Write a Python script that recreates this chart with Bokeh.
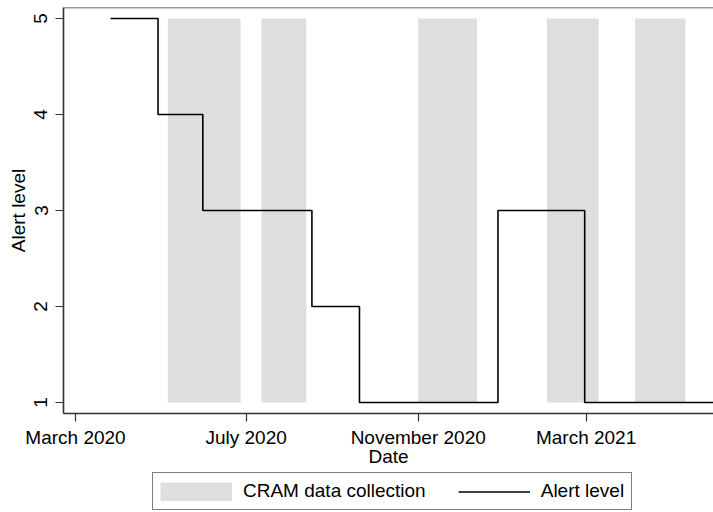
from datetime import datetime

import pandas as pd
from bokeh.plotting import figure
from bokeh.layouts import column
from bokeh.models import (ColumnDataSource, DatetimeTickFormatter, FixedTicker,
                          Legend, LegendItem, Range1d, Span)
from bokeh.embed import file_html
from bokeh.resources import INLINE

# Alert level in force from each date until the next change
level_dates = ["2020-03-26", "2020-04-29", "2020-05-31", "2020-08-17",
               "2020-09-20", "2020-12-28", "2021-02-28", "2021-05-31"]
alert_levels = [5, 4, 3, 2, 1, 3, 1, 1]

# CRAM data collection windows
cram_start = ["2020-05-06", "2020-07-12", "2020-11-01", "2021-02-01", "2021-04-05"]
cram_end = ["2020-06-27", "2020-08-13", "2020-12-13", "2021-03-10", "2021-05-11"]

# Axis ticks
tick_dates = ["2020-03-01", "2020-07-01", "2020-11-01", "2021-03-01"]
level_ticks = [1, 2, 3, 4, 5]

FONT = "Liberation Sans"
AXIS_COLOR = "#333333"
CRAM_FILL = "#dedede"

def to_ms(d):
    return (pd.Timestamp(d) - pd.Timestamp("1970-01-01")) / pd.Timedelta(milliseconds=1)

cram_src = ColumnDataSource(dict(left=pd.to_datetime(cram_start),
                                 right=pd.to_datetime(cram_end),
                                 bottom=[1] * len(cram_start),
                                 top=[5] * len(cram_start)))
level_src = ColumnDataSource(dict(date=pd.to_datetime(level_dates), level=alert_levels))

p = figure(width=713, height=470, x_axis_type="datetime",
           output_backend="svg", toolbar_location=None,
           min_border_left=63, min_border_top=7, min_border_right=0,
           min_border_bottom=57)

p.x_range = Range1d(datetime(2020, 2, 21, 10), datetime(2021, 5, 31, 2))
p.y_range = Range1d(0.885, 5.115)

p.outline_line_color = None
p.xgrid.visible = False
p.ygrid.visible = False
p.background_fill_color = "white"
p.border_fill_color = "white"

# shaded collection periods
p.quad(left="left", right="right", bottom="bottom", top="top", source=cram_src,
       fill_color=CRAM_FILL, line_color=None)

# alert level step line
p.step(x="date", y="level", source=level_src, mode="after",
       line_color="black", line_width=1.6)

# top border of the plot region
p.add_layout(Span(location=5.115, dimension="width", line_color=AXIS_COLOR,
                  line_width=1.6))

xa = p.xaxis[0]
xa.ticker = FixedTicker(ticks=[to_ms(d) for d in tick_dates])
xa.formatter = DatetimeTickFormatter(days="%B %Y", months="%B %Y", years="%B %Y")
xa.axis_label = "Date"

ya = p.yaxis[0]
ya.ticker = FixedTicker(ticks=level_ticks)
ya.axis_label = "Alert level"
ya.major_label_orientation = "vertical"

for ax in (xa, ya):
    ax.axis_line_color = AXIS_COLOR
    ax.axis_line_width = 1.6
    ax.major_tick_line_color = AXIS_COLOR
    ax.major_tick_line_width = 1.2
    ax.major_tick_out = 8
    ax.major_tick_in = 0
    ax.minor_tick_out = 0
    ax.minor_tick_in = 0
    ax.major_label_text_font = FONT
    ax.major_label_text_font_size = "19px"
    ax.major_label_text_color = "black"
    ax.axis_label_text_font = FONT
    ax.axis_label_text_font_size = "19px"
    ax.axis_label_text_font_style = "normal"
    ax.axis_label_text_color = "black"

xa.major_label_standoff = 5
xa.axis_label_standoff = -5
ya.major_label_standoff = 8
ya.axis_label_standoff = 3

# key strip below the chart; its renderers share the chart's sources but
# sit outside this strip's ranges, so only their legend swatches show.
# A wide butt-capped line gives a full-size grey block as the shading key.
lg = figure(width=713, height=42, output_backend="svg", toolbar_location=None,
            x_axis_location=None, y_axis_location=None,
            min_border_left=0, min_border_right=0, min_border_top=0,
            min_border_bottom=0, x_range=(0, 1), y_range=(0, 1))
lg.outline_line_color = None
lg.xgrid.visible = False
lg.ygrid.visible = False
key_cram = lg.line(x="left", y="bottom", source=cram_src,
                   line_color=CRAM_FILL, line_width=19, line_cap="butt")
key_alert = lg.step(x="date", y="level", source=level_src, mode="after",
                    line_color="black", line_width=1.6)

legend = Legend(items=[LegendItem(label="CRAM data collection", renderers=[key_cram]),
                       LegendItem(label="Alert level", renderers=[key_alert])],
                orientation="horizontal", location=(89, 2),
                border_line_color="black", border_line_width=1,
                background_fill_color="white", background_fill_alpha=1,
                padding=7, margin=0, spacing=32, label_standoff=11,
                glyph_width=72, glyph_height=19, label_height=19,
                label_text_font=FONT, label_text_font_size="19px",
                label_text_color="black")
lg.add_layout(legend)

layout = column(p, lg, spacing=0)

open("out.html", "w").write(file_html(layout, INLINE))
